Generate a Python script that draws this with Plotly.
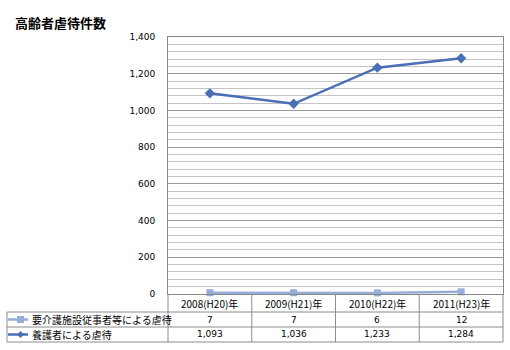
import plotly.graph_objects as go

categories = ["2008(H20)年", "2009(H21)年", "2010(H22)年", "2011(H23)年"]
series_names = ["要介護施設従事者等による虐待", "養護者による虐待"]
facility_staff = [7, 7, 6, 12]
caregivers = [1093, 1036, 1233, 1284]
y_ticks = [0, 200, 400, 600, 800, 1000, 1200, 1400]
title = "高齢者虐待件数"

W, H = 510, 350
L, R, T, B = 168, 503, 37, 294
PW, PH = R - L, B - T

def px(x):
    return (x - L) / PW

def py(y):
    return (B - y) / PH

c1 = "#95ADD8"
c2 = "#4A6FB7"
font_jp = "Noto Sans CJK JP, Meiryo, sans-serif"

fig = go.Figure()
fig.add_trace(go.Scatter(x=categories, y=facility_staff, mode="lines+markers",
                         name=series_names[0], line=dict(color=c1, width=2.5),
                         marker=dict(symbol="square", size=7, color=c1), cliponaxis=False))
fig.add_trace(go.Scatter(x=categories, y=caregivers, mode="lines+markers",
                         name=series_names[1], line=dict(color=c2, width=2.5),
                         marker=dict(symbol="diamond", size=8, color=c2), cliponaxis=False))

fig.update_layout(
    width=W, height=H,
    margin=dict(l=L, r=W - R, t=T, b=H - B, pad=0),
    paper_bgcolor="white", plot_bgcolor="white",
    showlegend=False,
    font=dict(family=font_jp, size=9, color="#000000"),
)
fig.update_xaxes(type="category", range=[-0.5, 3.5], showticklabels=False, ticks="",
                 showgrid=False, showline=True, linecolor="#888888", linewidth=1, mirror=True,
                 zeroline=False)
fig.update_yaxes(range=[0, 1400], tickvals=y_ticks,
                 ticktext=[f"{v:,}" for v in y_ticks], ticks="", ticklabelstandoff=10,
                 showgrid=True, gridcolor="#9A9A9A", gridwidth=1,
                 minor=dict(dtick=40, showgrid=True, gridcolor="#C4C4C4", gridwidth=1),
                 showline=True, linecolor="#888888", linewidth=1, mirror=True, zeroline=False,
                 tickfont=dict(family="Verdana, DejaVu Sans, sans-serif", size=9))

shapes = []
border = dict(color="#8C8C8C", width=1)
row_tops = [312, 327, 342]
for yy in row_tops:
    shapes.append(dict(type="line", xref="paper", yref="paper", x0=px(7), x1=px(R),
                       y0=py(yy), y1=py(yy), line=border))
shapes.append(dict(type="line", xref="paper", yref="paper", x0=px(7), x1=px(7),
                   y0=py(312), y1=py(342), line=border))
for i in range(len(categories) + 1):
    xx = L + PW * i / len(categories)
    shapes.append(dict(type="line", xref="paper", yref="paper", x0=px(xx), x1=px(xx),
                       y0=py(B), y1=py(342), line=border))

annotations = [dict(text=f"<b>{title}</b>", xref="paper", yref="paper", x=px(13), y=py(23),
                    xanchor="left", yanchor="middle", showarrow=False,
                    font=dict(size=13, family=font_jp, color="#000000"))]
for c in categories:
    annotations.append(dict(text=c, xref="x", yref="paper", x=c, y=py(303),
                            xanchor="center", yanchor="middle", showarrow=False,
                            font=dict(size=10, family=font_jp)))
row_y = [319.5, 334.5]
for vals, ry in zip([facility_staff, caregivers], row_y):
    for c, v in zip(categories, vals):
        annotations.append(dict(text=f"{v:,}", xref="x", yref="paper", x=c, y=py(ry),
                                xanchor="center", yanchor="middle", showarrow=False,
                                font=dict(size=9, family="Verdana, DejaVu Sans, sans-serif")))
for name, ry, col, sym, sz in zip(series_names, row_y, [c1, c2], ["square", "diamond"], [7, 6]):
    shapes.append(dict(type="line", xref="paper", yref="paper", x0=px(8), x1=px(28),
                       y0=py(ry), y1=py(ry), line=dict(color=col, width=2.5)))
    annotations.append(dict(text=name, xref="paper", yref="paper", x=px(30), y=py(ry),
                            xanchor="left", yanchor="middle", showarrow=False,
                            font=dict(size=10, family=font_jp)))
# legend markers
fig.add_trace(go.Scatter(x=[0], y=[0], mode="markers", showlegend=False, hoverinfo="skip",
                         visible=False))
for col, sym, sz, ry in zip([c1, c2], ["square", "diamond"], [7, 7], row_y):
    shapes.append(dict(type="rect" if sym == "square" else "path", xref="paper", yref="paper",
                       **({"x0": px(17), "x1": px(24), "y0": py(ry + 3.5), "y1": py(ry - 3.5)}
                          if sym == "square" else
                          {"path": f"M {px(20.5)},{py(ry-3.5)} L {px(24)},{py(ry)} L {px(20.5)},{py(ry+3.5)} L {px(17)},{py(ry)} Z"}),
                       fillcolor=col, line=dict(width=0)))

fig.update_layout(shapes=shapes, annotations=annotations)
fig.write_html("out.html")
